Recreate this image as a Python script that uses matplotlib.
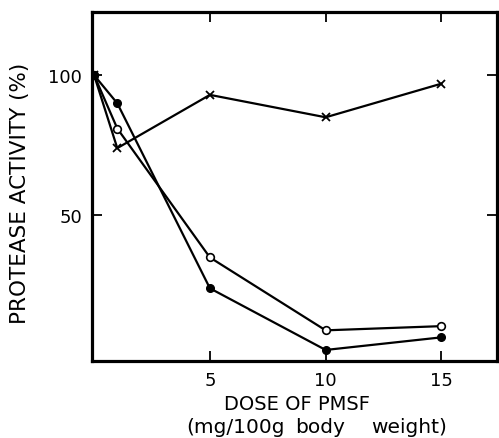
import matplotlib
matplotlib.use("Agg")
import matplotlib.pyplot as plt

dose = [0, 1, 5, 10, 15]
cross_vals = [100, 74, 93, 85, 97]
open_vals = [100, 81, 35, 9, 10.5]
filled_vals = [100, 90, 24, 2, 6.5]

x_ticks = [5, 10, 15]
y_ticks = [50, 100]

plt.rcParams['font.family'] = ['DejaVu Sans']

W, H = 499, 439
fig = plt.figure(figsize=(W / 100, H / 100), dpi=100)
ax = fig.add_axes([0.184, 0.175, 0.812, 0.795])

lw = 1.6
ax.plot(dose, cross_vals, color='black', lw=lw, marker='x', ms=6, mew=1.3)
ax.plot(dose, open_vals, color='black', lw=lw, marker='o', ms=5.5,
        mfc='white', mec='black', mew=1.2)
ax.plot(dose, filled_vals, color='black', lw=lw, marker='o', ms=5.5,
        mfc='black', mec='black')

ax.set_xlim(-0.1, 17.4)
ax.set_ylim(-2, 122.5)
ax.set_xticks(x_ticks)
ax.set_yticks(y_ticks)
ax.tick_params(direction='in', length=7, width=1.3, labelsize=13,
               top=True, right=True, labeltop=False, labelright=False)
ax.tick_params(axis='x', pad=7)
ax.tick_params(axis='y', pad=7)
for s in ax.spines.values():
    s.set_linewidth(2.3)

fig.text(20 / W, 1 - 193 / H, 'PROTEASE ACTIVITY (%)', fontsize=15.5,
         rotation=90, ha='center', va='center')
fig.text(297 / W, 1 - 410 / H, 'DOSE OF PMSF', fontsize=14,
         ha='center', va='baseline')
fig.text(186 / W, 1 - 433 / H, '(mg/100g', fontsize=14.5,
         ha='left', va='baseline')
fig.text(320 / W, 1 - 433 / H, 'body', fontsize=14.5,
         ha='center', va='baseline')
fig.text(409 / W, 1 - 433 / H, 'weight)', fontsize=14.5,
         ha='center', va='baseline')

fig.savefig('out.png', dpi=100)
